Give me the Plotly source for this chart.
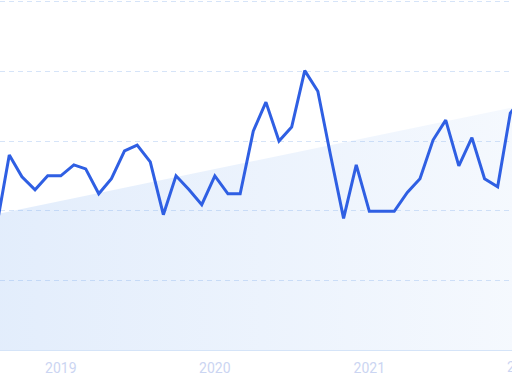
import plotly.graph_objects as go
import pandas as pd

# Monthly series (first of month)
months = pd.date_range("2018-08-01", "2022-01-01", freq="MS").strftime("%Y-%m-%d").tolist()
values = [87, 140, 124.3, 115, 125, 125, 132.9, 130, 112.1, 122.9, 142.9, 147.1,
          135, 97.1, 125, 115, 104.3, 125, 112.1, 112.1, 157.1, 177.9, 150, 160,
          200.5, 185.7, 140, 94.5, 132.9, 99.5, 99.5, 99.5, 113.1, 122.9, 150.7, 165,
          132.1, 152.4, 122.9, 117.1, 170, 182]

# Trend band (start / end of visible window)
trend_dates = ["2018-08-10", "2021-12-05"]
trend_values = [98, 174]

x_range = ["2018-08-10", "2021-12-05"]
y_range = [0, 251.2]
cut_label = "2022"
cut_label_date = "2022-01-01"

fig = go.Figure()
fig.add_trace(go.Scatter(
    x=trend_dates, y=trend_values, mode="lines", line=dict(width=0),
    fill="tozeroy",
    fillgradient=dict(type="horizontal",
                      colorscale=[[0, "rgba(120,170,240,0.21)"],
                                  [1, "rgba(120,170,240,0.075)"]]),
    hoverinfo="skip", showlegend=False,
))
fig.add_trace(go.Scatter(
    x=months, y=values, mode="lines",
    line=dict(color="#2f5fe3", width=3), showlegend=False,
))

# partially visible tick label at the right edge
t0 = pd.Timestamp(x_range[0]).value
t1 = pd.Timestamp(x_range[1]).value
frac = (pd.Timestamp(cut_label_date).value - t0) / (t1 - t0)
fig.add_annotation(
    x=frac, xref="paper", xanchor="center", y=0, yref="paper", yanchor="top",
    yshift=-7, text=cut_label, showarrow=False,
    font=dict(family="Roboto", size=14, color="#cbd5f2"),
)

fig.update_layout(
    width=512, height=384,
    margin=dict(l=0, r=0, t=0, b=34),
    paper_bgcolor="white", plot_bgcolor="white",
    font=dict(family="Roboto", size=14, color="#cbd5f2"),
)
fig.update_xaxes(
    range=x_range, type="date", dtick="M12", tick0="2019-01-01", tickformat="%Y",
    showgrid=False, showline=True, linecolor="#d5e4f8", linewidth=1,
    ticks="", ticklabelstandoff=5, zeroline=False,
)
fig.update_yaxes(
    range=y_range, dtick=50, showticklabels=False, showgrid=True,
    gridcolor="#d6e4f8", griddash="5px,4px", gridwidth=1, zeroline=False,
    showline=False,
)

fig.write_html("out.html")
